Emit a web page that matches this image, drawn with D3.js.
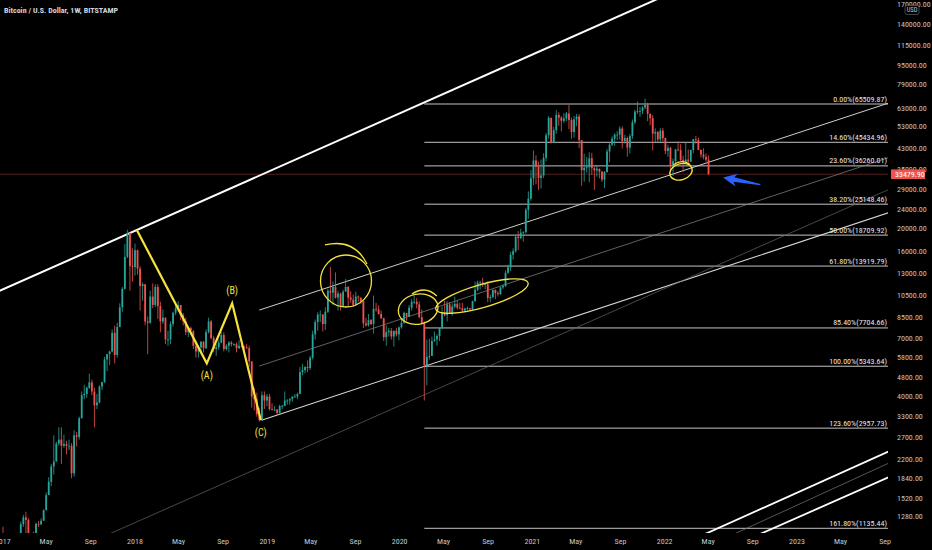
<!DOCTYPE html>
<html>
<head>
<meta charset="utf-8">
<script src="https://cdn.jsdelivr.net/npm/d3@7"></script>
<style>
  html, body { margin: 0; padding: 0; background: #000; }
  svg text { font-family: "Liberation Sans Narrow", "Arial Narrow", "Roboto Condensed", "DejaVu Sans Condensed", sans-serif; }
</style>
</head>
<body>
<div id="chart"></div>
<script>
// weekly candles [high, low, close], open = previous close, first week starts 2017-01-02
var firstWeek = "2017-01-02";
var firstOpen = 998;
var ohlc2017 = [[1153,812,908],[915,740,818],[925,810,921],[925,880,915],[1035,910,1010],[1065,940,996],[1060,980,1050],[1210,1045,1180],[1290,1150,1260],[1330,1000,1230],
  [1250,950,1020],[1070,890,965],[1100,930,1085],[1200,1050,1185],[1220,1150,1180],[1250,1170,1220],[1360,1220,1350],[1600,1350,1560],[1850,1560,1770],[2100,1700,2050],
  [2760,1900,2150],[2600,2150,2550],[2980,2500,2650],[2980,2100,2500],[2780,2450,2540],[2620,2300,2500],[2650,2400,2500],[2560,1830,1920],[2900,1860,2760],[2850,2480,2720],
  [3300,2650,3250],[4200,3250,4050],[4480,3900,4100],[4400,3950,4350],[4980,4300,4580],[4700,4050,4200],[4350,2980,3680],[4100,3550,3780],[4450,3750,4400],[4600,4250,4600],
  [5850,4550,5700],[6000,5100,6000],[6200,5400,6150],[7600,6100,7350],[7880,5500,5950],[8100,5800,7780],[9750,7750,9380],[11400,9000,11200],[17200,11100,15200],[19700,15000,19100],
  [19200,11000,13900],[16500,12000,13800]];
var ohlc2018 = [[17250,12700,16200],[16300,12800,13600],[13900,9100,11500],[11900,10000,11700],[11700,7900,8200],[8600,6000,8100],[11000,8000,10400],[11800,9300,9600],[11700,9400,11400],[11700,8400,9500],
  [9900,7400,8200],[9200,8000,8500],[8500,6600,6900],[7500,6500,6900],[8200,6600,8000],[9000,7800,8900],[9750,8700,9300],[9950,9000,9600],[9600,8300,8700],[8900,7900,8200],
  [8500,7200,7400],[7800,7050,7700],[7800,7500,7500],[7500,6300,6500],[6800,5800,6150],[6500,5800,6400],[6800,6100,6750],[6800,6100,6350],[7600,6300,7400],[8500,7300,8200],
  [8300,6900,7000],[7150,6100,6300],[6600,5900,6400],[6900,6250,6700],[7400,6650,7200],[7400,6150,6300],[6600,6200,6500],[6800,6100,6700],[6800,6450,6600],[6650,6480,6600],
  [6700,6100,6350],[6850,6300,6500],[6550,6400,6450],[6500,6250,6400],[6600,6300,6350],[6500,5300,5600],[5600,3600,4000],[4350,3500,3900],[4150,3300,3380],[3600,3150,3200],
  [4200,3200,4050],[4200,3550,3850],[4100,3650,4000]];
var ohlc2019 = [[4100,3500,3550],[3750,3500,3530],[3650,3480,3530],[3550,3350,3420],[3700,3400,3650],[3700,3550,3650],[4200,3650,3850],[3900,3700,3850],[3950,3700,3900],[4000,3800,4000],
  [4100,3950,4000],[4150,3900,4100],[5300,4100,5050],[5450,4900,5150],[5350,5000,5300],[5650,5050,5250],[5900,5150,5800],[7500,5700,7250],[8350,6900,8150],[8950,7500,8750],
  [9100,8150,8750],[8800,7450,8000],[9400,7550,9000],[11200,8900,11000],[13800,10000,10800],[12000,9600,11400],[13100,10200,10300],[11000,9100,10700],[10800,9100,9500],[11100,9400,10900],
  [12300,10900,11400],[11500,9500,10300],[10950,9800,10100],[10600,9400,9600],[10900,9600,10400],[10500,9900,10300],[10300,9700,9950],[10000,7700,8050],[8500,7800,7900],[8800,7800,8300],
  [8400,7900,8000],[10500,7300,9250],[9800,9000,9200],[9550,8750,8800],[9100,8400,8450],[8500,6800,7050],[7900,6500,7400],[7700,7100,7500],[7700,6900,7100],[7500,6450,7500],
  [7700,7100,7250],[7800,6850,7750]];
var ohlc2020 = [[8450,7650,8100],[9000,8000,8900],[8800,8250,8600],[9600,8550,9350],[10150,9100,9900],[10500,9700,9900],[10250,9300,9650],[9950,8450,8550],[9200,8000,8050],[8200,3850,5400],
  [6900,4450,5850],[6950,5700,5900],[7100,5900,6800],[7450,6750,6900],[7250,6500,7130],[7750,6800,7700],[9450,7600,8900],[10000,8600,8700],[9950,8200,9650],[9850,8800,8900],
  [9750,8650,9450],[10400,9300,9700],[10000,9200,9350],[9800,9200,9300],[9800,8950,9100],[9350,8950,9280],[9450,9100,9300],[9350,9050,9200],[10000,9150,9950],[12000,9900,11100],
  [12100,10950,11900],[12100,11150,11900],[12450,11400,11650],[11800,11150,11700],[12050,9850,10250],[10600,9850,10350],[11100,10250,11100],[11050,10150,10750],[10950,10400,10650],[11450,10550,11350],
  [11700,11150,11500],[13350,11400,13050],[14100,12950,13750],[15950,13300,15500],[16500,14800,16050],[18800,15800,18400],[19450,16200,18200],[19900,18000,19150],[19400,17600,19250],[24300,19000,23800],
  [28400,21900,26500],[34800,26000,32200]];
var ohlc2021 = [[41950,30200,38200],[40100,30400,36000],[37800,28800,32300],[38500,29200,33100],[40900,32300,39200],[49700,37900,48600],[58350,47000,57400],[57500,44900,45200],[52600,45000,51000],[61700,49300,59000],
  [60500,53200,57500],[58400,50400,55800],[60000,54700,57100],[60700,55500,59800],[64850,51500,56200],[57500,47000,50100],[58500,47500,56600],[59500,53000,58100],[59500,43000,46400],[45800,30000,34800],
  [40800,31200,35600],[39500,34000,35800],[41300,31000,39000],[41100,33300,35500],[36000,28800,34700],[36600,32700,35300],[35300,32200,34300],[34600,31100,31800],[34500,29300,34200],[42600,34000,41600],
  [45000,37500,44400],[48100,43800,47000],[49500,43900,48900],[50500,46400,48900],[52900,46700,51800],[52900,42800,46000],[48800,44900,47300],[48000,39600,43200],[49200,40800,48200],[56500,46900,55000],
  [62000,54000,60900],[67000,59600,61300],[63700,58000,61300],[64300,59500,63300],[69000,62300,65000],[66300,55600,59700],[59300,53500,57200],[59000,42000,49400],[51900,45600,50100],[50600,45600,46700],
  [52000,45600,50800],[52100,45700,47300]];
var ohlc2022 = [[47500,40600,41800],[44400,39600,43100],[43500,34000,36300],[38900,32900,37900],[42600,36300,42400],[45800,41700,42200],[44600,38000,38400],[40000,34300,37700],[45400,37500,38500],[42400,37200,37800],
  [42300,37600,42200],[46900,40900,46800],[48200,44900,46400],[47500,42100,42200],[42500,39200,40400],[42900,38600,39500],[40800,37700,38500],[40000,33400,33479.9]];
var lastPrice = 33479.90;

// fibonacci retracement drawn from the March 2020 low
var fibStart = "2020-03-09";
var fibLabels = ["0.00%","14.60%","23.60%","38.20%","50.00%","61.80%","85.40%","100.00%","123.60%","161.80%"];
var fibPrices = [65509.87,45434.96,36260.01,25148.46,18709.92,13919.79,7704.66,5343.64,2957.73,1135.44];

// axis ticks
var priceTicks = [170000,140000,115000,95000,79000,63000,53000,43000,35000,29000,24000,20000,16000,13000,10500,8500,7000,5800,4800,4000,3300,2700,2200,1840,1520,1280];
var yearTicks = ["2017","2018","2019","2020","2021","2022","2023"];
var monthTicks = ["2017-05","2017-09","2018-05","2018-09","2019-05","2019-09","2020-05","2020-09","2021-05","2021-09","2022-05","2022-09","2023-05","2023-09"];
var monthNames = {"05": "May", "09": "Sep"};

// hand drawn trend lines: [date, price] pairs, ext = extend left / right
var trendLines = [
  {p: [["2016-12-24",10990],["2018-01-06",19650]], ext: [1,1], c: "#ffffff", w: 2},
  {p: [["2018-12-10",9140],["2023-09-08",65900]], ext: [0,1], c: "#cfcfcf", w: 1},
  {p: [["2018-12-10",5355],["2023-09-08",39140]], ext: [0,1], c: "#8a8a8a", w: 0.7},
  {p: [["2018-12-16",3190],["2023-09-08",23100]], ext: [0,1], c: "#d6d6d6", w: 1.1},
  {p: [["2017-10-23",1077],["2023-09-08",28800]], ext: [1,1], c: "#666666", w: 0.7},
  {p: [["2022-04-29",1086],["2023-09-08",2354]], ext: [1,1], c: "#ffffff", w: 1.8},
  {p: [["2022-07-18",1086],["2023-09-08",2107]], ext: [1,1], c: "#7a7a7a", w: 0.7},
  {p: [["2022-09-28",1086],["2023-09-08",1841]], ext: [1,1], c: "#ffffff", w: 1.8}
];

// yellow ABC zigzag
var zigDates = ["2018-01-06","2018-07-18","2018-09-26","2018-12-14"];
var zigPrices = [19650,5495,9750,3190];
var zigNames = ["", "(A)", "(B)", "(C)"];

// yellow circles: centre date / price
var ringDates = ["2019-08-06","2020-02-21","2020-08-15","2022-02-15"];
var ringPrices = [12070,9225,10450,34290];
var arrowDate = "2022-06-11", arrowPrice = 32480;

var width = 932, height = 550,
    plotW = 888, plotH = 533;

var day = s => new Date(s.length == 7 ? s + "-01T00:00:00Z" : (s.length == 4 ? s + "-01-01T00:00:00Z" : s + "T00:00:00Z"));

var x = d3.scaleUtc()
  .domain([day("2018-01-01"), day("2023-01-01")])
  .range([135, 797]);
var y = d3.scaleLog()
  .domain([1135.44, 65509.87])
  .range([528.3, 104]);

// build candles
var rows = [].concat(ohlc2017, ohlc2018, ohlc2019, ohlc2020, ohlc2021, ohlc2022);
var t0 = day(firstWeek).getTime();
var prev = firstOpen;
var candles = rows.map(function(r, i) {
  var o = prev, c = r[2];
  prev = c;
  return {date: new Date(t0 + i * 7 * 864e5), open: o, close: c,
          high: Math.max(r[0], o, c), low: Math.min(r[1], o, c)};
});

var svg = d3.select("#chart").append("svg")
  .attr("width", width)
  .attr("height", height)
  .style("display", "block");

svg.append("rect").attr("width", width).attr("height", height).attr("fill", "#000");

svg.append("clipPath").attr("id", "plot")
  .append("rect").attr("width", plotW).attr("height", plotH);

var plot = svg.append("g").attr("clip-path", "url(#plot)");

// current price line
plot.append("line")
  .attr("x1", 0).attr("x2", plotW)
  .attr("y1", y(lastPrice)).attr("y2", y(lastPrice))
  .attr("stroke", "#ef5350").attr("stroke-opacity", 0.45).attr("stroke-width", 0.8);

// fib levels
var fx = x(day(fibStart));
plot.selectAll(".fib").data(fibPrices).enter().append("line")
  .attr("x1", fx).attr("x2", plotW)
  .attr("y1", d => y(d)).attr("y2", d => y(d))
  .attr("stroke", "#c4c4c4").attr("stroke-width", 1);

// trend lines
trendLines.forEach(function(l) {
  var a = [x(day(l.p[0][0])), y(l.p[0][1])],
      b = [x(day(l.p[1][0])), y(l.p[1][1])],
      dx = b[0] - a[0], dy = b[1] - a[1], k = 20;
  var s = l.ext[0] ? [a[0] - k * dx, a[1] - k * dy] : a,
      e = l.ext[1] ? [b[0] + k * dx, b[1] + k * dy] : b;
  plot.append("line")
    .attr("x1", s[0]).attr("y1", s[1]).attr("x2", e[0]).attr("y2", e[1])
    .attr("stroke", l.c).attr("stroke-width", l.w);
});

// candles
var up = "#26a69a", down = "#ef5350", bw = 1.8;
var cg = plot.append("g");
cg.selectAll(".wick").data(candles).enter().append("line")
  .attr("x1", d => x(d.date)).attr("x2", d => x(d.date))
  .attr("y1", d => y(d.high)).attr("y2", d => y(d.low))
  .attr("stroke", d => d.close >= d.open ? up : down)
  .attr("stroke-width", 0.8);
cg.selectAll(".body").data(candles).enter().append("rect")
  .attr("x", d => x(d.date) - bw / 2)
  .attr("width", bw)
  .attr("y", d => y(Math.max(d.open, d.close)))
  .attr("height", d => Math.max(0.8, Math.abs(y(d.open) - y(d.close))))
  .attr("fill", d => d.close >= d.open ? up : down);

// yellow annotations
var yel = "#f5e23c";
var zig = zigDates.map((d, i) => [x(day(d)), y(zigPrices[i])]);
plot.append("path")
  .attr("d", d3.line()(zig))
  .attr("fill", "none").attr("stroke", yel).attr("stroke-width", 2.2)
  .attr("stroke-linejoin", "miter");
plot.selectAll(".abc").data(zig.slice(1)).enter().append("text")
  .attr("x", d => d[0])
  .attr("y", (d, i) => i == 1 ? d[1] - 9 : d[1] + 16)
  .attr("text-anchor", "middle")
  .attr("font-size", 10)
  .attr("fill", yel)
  .text((d, i) => zigNames[i + 1]);

// ring sizes & tails (px)
var ringShape = [
  {rx: 25.5, ry: 26, rot: 0, tail: "M-21,-36 Q8,-43 21,-17"},
  {rx: 20, ry: 15, rot: -12, tail: "M-3,-16 Q12,-22 21,-9"},
  {rx: 48, ry: 11.5, rot: -16, tail: ""},
  {rx: 11.5, ry: 8, rot: -18, tail: "M-5,-9 Q5,-12 11,-4"}
];
ringDates.forEach(function(d, i) {
  var s = ringShape[i];
  var g = plot.append("g")
    .attr("transform", "translate(" + x(day(d)) + "," + y(ringPrices[i]) + ") rotate(" + s.rot + ")");
  g.append("ellipse").attr("rx", s.rx).attr("ry", s.ry)
    .attr("fill", "none").attr("stroke", yel).attr("stroke-width", 1.3);
  if (s.tail) g.append("path").attr("d", s.tail)
    .attr("fill", "none").attr("stroke", yel).attr("stroke-width", 1.3);
});

// blue arrow
plot.append("path")
  .attr("transform", "translate(" + x(day(arrowDate)) + "," + y(arrowPrice) + ") rotate(11)")
  .attr("d", "M0,0 L14,-6.5 L11,-2.2 L38,-0.6 L38,0.6 L11,2.2 L14,6.5 Z")
  .attr("fill", "#2962ff");

// fib labels
svg.selectAll(".fibl").data(fibPrices).enter().append("text")
  .attr("x", 887)
  .attr("y", d => y(d) - 2.5)
  .attr("text-anchor", "end")
  .attr("font-size", 8)
  .attr("fill", "#e6e6e6")
  .text((d, i) => fibLabels[i] + "(" + d.toFixed(2) + ")");

// price axis
svg.selectAll(".pt").data(priceTicks).enter().append("text")
  .attr("x", 897)
  .attr("y", d => y(d))
  .attr("dy", "0.35em")
  .attr("font-size", 8)
  .attr("fill", "#c3c6cc")
  .text(d => d.toFixed(2));

svg.append("rect")
  .attr("x", 905).attr("y", 5.5).attr("width", 14).attr("height", 9).attr("rx", 2)
  .attr("fill", "#000").attr("stroke", "#5d606b").attr("stroke-width", 0.7);
svg.append("text")
  .attr("x", 912).attr("y", 10).attr("dy", "0.35em")
  .attr("text-anchor", "middle").attr("font-size", 6.5).attr("fill", "#c3c6cc")
  .text("USD");

svg.append("rect")
  .attr("x", 891).attr("y", y(lastPrice) - 4.8).attr("width", 34).attr("height", 9.6)
  .attr("fill", "#ef5350");
svg.append("text")
  .attr("x", 895).attr("y", y(lastPrice)).attr("dy", "0.35em")
  .attr("font-size", 8).attr("fill", "#fff")
  .text(lastPrice.toFixed(2));

// time axis
svg.selectAll(".yt").data(yearTicks).enter().append("text")
  .attr("x", d => x(day(d)))
  .attr("y", 544)
  .attr("text-anchor", "middle")
  .attr("font-size", 8)
  .attr("fill", "#c3c6cc")
  .text(d => d);
svg.selectAll(".mt").data(monthTicks).enter().append("text")
  .attr("x", d => x(day(d)))
  .attr("y", 544)
  .attr("text-anchor", "middle")
  .attr("font-size", 8)
  .attr("fill", "#c3c6cc")
  .text(d => monthNames[d.slice(5)]);

// title
svg.append("text")
  .attr("x", 4).attr("y", 13)
  .attr("font-size", 8).attr("font-weight", "bold")
  .attr("fill", "#d1d4dc")
  .text("Bitcoin / U.S. Dollar, 1W, BITSTAMP");
</script>
</body>
</html>
